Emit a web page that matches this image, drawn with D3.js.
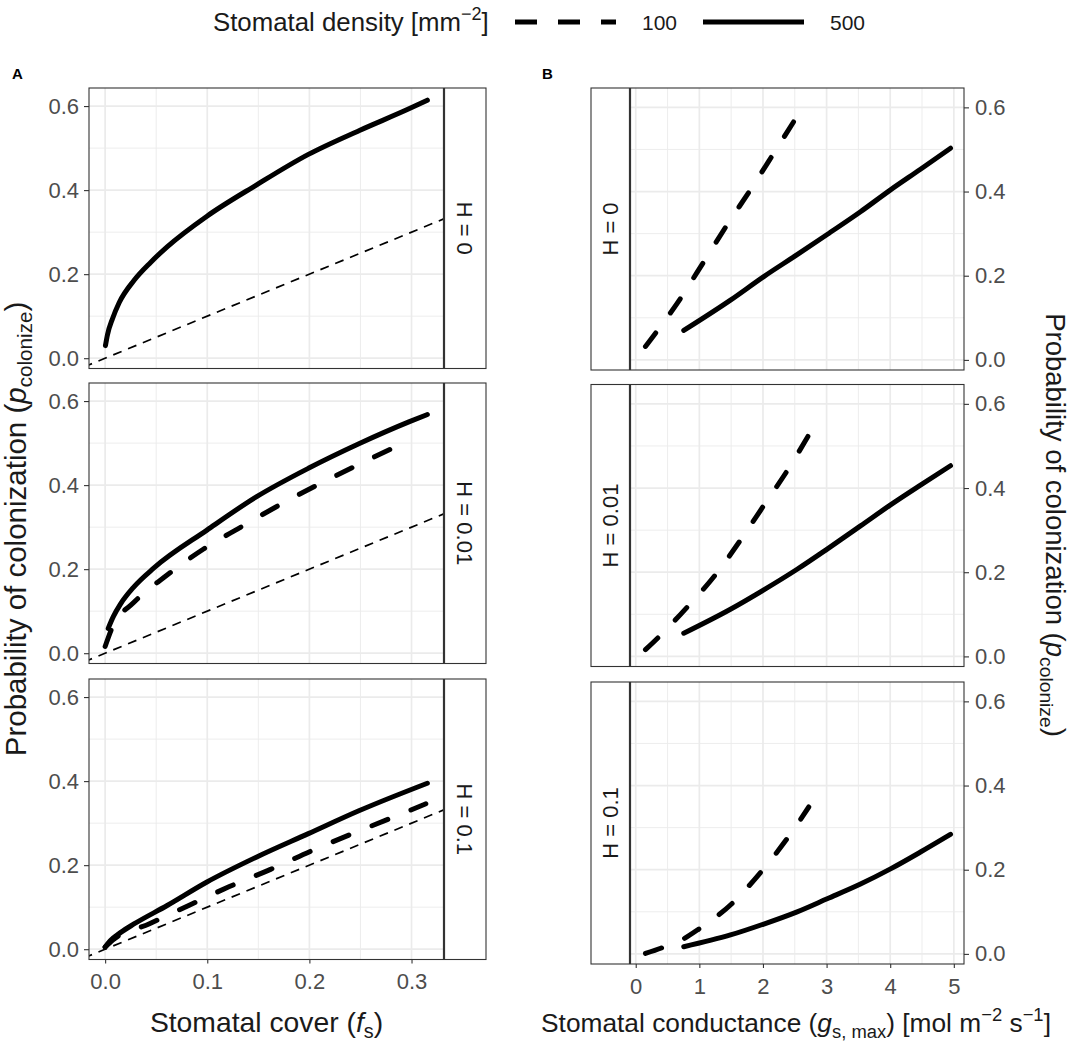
<!DOCTYPE html>
<html>
<head>
<meta charset="utf-8">
<script src="https://cdn.jsdelivr.net/npm/d3@7"></script>
<style>
body { margin: 0; background: #fff; }
text { font-family: "Liberation Sans", Arial, Helvetica, sans-serif; }
</style>
</head>
<body>
<div id="chart"></div>
<script>
// values
var hLabels = ["H = 0", "H = 0.01", "H = 0.1"];
var densityLabels = ["100", "500"];
var coverTicks = [0, 0.1, 0.2, 0.3];
var coverMinor = [0.05, 0.15, 0.25];
var condTicks = [0, 1, 2, 3, 4, 5];
var condMinor = [0.5, 1.5, 2.5, 3.5, 4.5];
var probTicks = [0, 0.2, 0.4, 0.6];
var probMinor = [0.1, 0.3, 0.5];
var identityLine = [-0.05, 0.4];   // y = x reference in panel A

// panel A: stomatal cover (f_s) -> p_colonize
var coverH0_500 = [0.0003, 0.0023, 0.0072, 0.0137, 0.0282, 0.0445, 0.0607, 0.0997, 0.148, 0.199, 0.249, 0.298, 0.3155];
var probCoverH0_500 = [0.030, 0.056, 0.094, 0.132, 0.185, 0.228, 0.265, 0.338, 0.412, 0.485, 0.542, 0.594, 0.614];

var coverH001_500 = [0.003, 0.008, 0.0153, 0.0282, 0.0478, 0.0997, 0.148, 0.199, 0.249, 0.298, 0.3155];
var probCoverH001_500 = [0.059, 0.087, 0.118, 0.158, 0.203, 0.293, 0.372, 0.440, 0.499, 0.551, 0.568];
var coverH001_100 = [0.0, 0.0071, 0.0282, 0.0607, 0.0964, 0.1321, 0.1694, 0.2068, 0.2457, 0.2945];
var probCoverH001_100 = [0.016, 0.062, 0.121, 0.186, 0.248, 0.299, 0.351, 0.399, 0.446, 0.503];

var coverH01_500 = [0.0, 0.005, 0.0153, 0.0282, 0.0607, 0.0997, 0.148, 0.199, 0.249, 0.3155];
var probCoverH01_500 = [0.005, 0.020, 0.040, 0.060, 0.104, 0.160, 0.219, 0.275, 0.330, 0.395];
var coverH01_100 = [0.0, 0.0071, 0.0429, 0.0834, 0.1217, 0.162, 0.201, 0.240, 0.281, 0.314];
var probCoverH01_100 = [0.005, 0.021, 0.060, 0.106, 0.149, 0.190, 0.233, 0.273, 0.313, 0.346];

// panel B: stomatal conductance (g_s,max) -> p_colonize
var condH0_100 = [0.153, 0.703, 1.069, 1.437, 1.803, 2.170, 2.537];
var probCondH0_100 = [0.032, 0.146, 0.233, 0.321, 0.404, 0.491, 0.579];
var condH0_500 = [0.755, 1.489, 2.013, 2.537, 3.009, 3.533, 4.005, 4.476, 4.948];
var probCondH0_500 = [0.070, 0.142, 0.198, 0.250, 0.298, 0.352, 0.404, 0.453, 0.503];

var condH001_100 = [0.153, 0.362, 0.808, 1.243, 1.646, 2.028, 2.406, 2.720];
var probCondH001_100 = [0.016, 0.046, 0.117, 0.192, 0.276, 0.362, 0.447, 0.526];
var condH001_500 = [0.755, 1.489, 2.013, 2.537, 3.009, 3.533, 4.005, 4.476, 4.948];
var probCondH001_500 = [0.055, 0.112, 0.158, 0.207, 0.255, 0.310, 0.360, 0.407, 0.453];

var condH01_100 = [0.153, 0.404, 0.755, 0.991, 1.516, 1.976, 2.390, 2.720];
var probCondH01_100 = [0.001, 0.014, 0.036, 0.059, 0.120, 0.196, 0.276, 0.349];
var condH01_500 = [0.755, 1.489, 2.013, 2.537, 3.009, 3.533, 4.005, 4.476, 4.948];
var probCondH01_500 = [0.017, 0.045, 0.071, 0.100, 0.131, 0.166, 0.202, 0.242, 0.284];

function zipxy(xs, ys) { return xs.map(function (v, i) { return [v, ys[i]]; }); }

var seriesA = [
    [{dens: "500", pts: zipxy(coverH0_500, probCoverH0_500)}],
    [{dens: "500", pts: zipxy(coverH001_500, probCoverH001_500)},
     {dens: "100", pts: zipxy(coverH001_100, probCoverH001_100)}],
    [{dens: "500", pts: zipxy(coverH01_500, probCoverH01_500)},
     {dens: "100", pts: zipxy(coverH01_100, probCoverH01_100)}]
];
var seriesB = [
    [{dens: "100", pts: zipxy(condH0_100, probCondH0_100)},
     {dens: "500", pts: zipxy(condH0_500, probCondH0_500)}],
    [{dens: "100", pts: zipxy(condH001_100, probCondH001_100)},
     {dens: "500", pts: zipxy(condH001_500, probCondH001_500)}],
    [{dens: "100", pts: zipxy(condH01_100, probCondH01_100)},
     {dens: "500", pts: zipxy(condH01_500, probCondH01_500)}]
];

var width = 1084, height = 1043;
var svg = d3.select("#chart").append("svg")
    .attr("width", width)
    .attr("height", height);

var TICK_FS = 22;
var INK = "#1a1a1a", TICKINK = "#4d4d4d", GRID = "#ebebeb", BORDER = "#333333";

var layoutA = {x0: 89, x1: 444, strip: [444, 486], tops: [88, 383, 679], h: 280.5,
    xdom: [-0.0158, 0.3318], ydom: [-0.0245, 0.643],
    xt: coverTicks, xm: coverMinor, fmt: d3.format(".1f"), side: "left", series: seriesA};
var layoutB = {x0: 630, x1: 964, strip: [591, 630], tops: [88, 384.5, 682], h: 282,
    xdom: [-0.09, 5.16], ydom: [-0.024, 0.646],
    xt: condTicks, xm: condMinor, fmt: d3.format("d"), side: "right", series: seriesB};

var line = d3.line().curve(d3.curveMonotoneX);

function styleAxis(g) {
    g.select(".domain").remove();
    g.selectAll(".tick line").attr("stroke", BORDER).attr("stroke-width", 1.1);
    g.selectAll(".tick text").attr("fill", TICKINK).style("font-size", TICK_FS + "px")
        .style("font-family", '"Liberation Sans", Arial, sans-serif');
}

function drawFacet(L, idx, clipId) {
    var top = L.tops[idx], bot = top + L.h;
    var x = d3.scaleLinear().domain(L.xdom).range([L.x0, L.x1]);
    var y = d3.scaleLinear().domain(L.ydom).range([bot, top]);
    var g = svg.append("g");

    g.append("clipPath").attr("id", clipId)
        .append("rect").attr("x", L.x0).attr("y", top).attr("width", L.x1 - L.x0).attr("height", L.h);

    var grid = g.append("g");
    grid.selectAll(".vmin").data(L.xm).enter().append("line")
        .attr("x1", x).attr("x2", x).attr("y1", top).attr("y2", bot)
        .attr("stroke", GRID).attr("stroke-width", 0.9);
    grid.selectAll(".hmin").data(probMinor).enter().append("line")
        .attr("x1", L.x0).attr("x2", L.x1).attr("y1", y).attr("y2", y)
        .attr("stroke", GRID).attr("stroke-width", 0.9);
    grid.selectAll(".vmaj").data(L.xt).enter().append("line")
        .attr("x1", x).attr("x2", x).attr("y1", top).attr("y2", bot)
        .attr("stroke", GRID).attr("stroke-width", 1.7);
    grid.selectAll(".hmaj").data(probTicks).enter().append("line")
        .attr("x1", L.x0).attr("x2", L.x1).attr("y1", y).attr("y2", y)
        .attr("stroke", GRID).attr("stroke-width", 1.7);

    var marks = g.append("g").attr("clip-path", "url(#" + clipId + ")");
    if (L.side === "left") {
        marks.append("path")
            .attr("d", line(identityLine.map(function (v) { return [x(v), y(v)]; })))
            .attr("fill", "none").attr("stroke", "#000").attr("stroke-width", 1.7)
            .attr("stroke-dasharray", "9 7");
    }
    marks.selectAll(".curve").data(L.series[idx]).enter().append("path")
        .attr("d", function (s) { return line(s.pts.map(function (p) { return [x(p[0]), y(p[1])]; })); })
        .attr("fill", "none").attr("stroke", "#000").attr("stroke-width", 5)
        .attr("stroke-linecap", "round").attr("stroke-linejoin", "round")
        .attr("stroke-dasharray", function (s) { return s.dens === "100" ? "17 25" : null; });

    // panel + strip frame
    var fx0 = Math.min(L.x0, L.strip[0]), fx1 = Math.max(L.x1, L.strip[1]);
    g.append("rect").attr("x", fx0).attr("y", top).attr("width", fx1 - fx0).attr("height", L.h)
        .attr("fill", "none").attr("stroke", BORDER).attr("stroke-width", 1.1);
    var sx = L.side === "left" ? L.strip[0] : L.strip[1];
    g.append("line").attr("x1", sx).attr("x2", sx).attr("y1", top).attr("y2", bot)
        .attr("stroke", BORDER).attr("stroke-width", 2.2);
    var cx = (L.strip[0] + L.strip[1]) / 2, cy = top + L.h / 2;
    var rot = L.side === "left" ? 90 : -90;
    g.append("text").attr("transform", "translate(" + cx + "," + cy + ") rotate(" + rot + ")")
        .attr("text-anchor", "middle").attr("dy", "0.36em")
        .attr("fill", INK).style("font-size", TICK_FS + "px").text(hLabels[idx]);

    // y axis
    var yAxis = L.side === "left"
        ? d3.axisLeft(y).tickValues(probTicks).tickFormat(d3.format(".1f")).tickSize(5).tickPadding(5)
        : d3.axisRight(y).tickValues(probTicks).tickFormat(d3.format(".1f")).tickSize(5).tickPadding(6);
    g.append("g")
        .attr("transform", "translate(" + (L.side === "left" ? L.x0 : L.x1) + ",0)")
        .call(yAxis).call(styleAxis);

    if (idx === 2) {
        g.append("g").attr("transform", "translate(0," + bot + ")")
            .call(d3.axisBottom(x).tickValues(L.xt).tickFormat(L.fmt).tickSize(4).tickPadding(10))
            .call(styleAxis);
    }
}

[0, 1, 2].forEach(function (i) {
    drawFacet(layoutA, i, "clipA" + i);
    drawFacet(layoutB, i, "clipB" + i);
});

// panel tags
svg.append("text").attr("x", 12).attr("y", 79).style("font-size", "15px").style("font-weight", "bold").text("A");
svg.append("text").attr("x", 542).attr("y", 79).style("font-size", "15px").style("font-weight", "bold").text("B");

// axis titles
function probTitle(t) {
    t.append("tspan").text("Probability of colonization (");
    t.append("tspan").style("font-style", "italic").text("p");
    t.append("tspan").attr("dy", 6).style("font-size", "0.7em").text("colonize");
    t.append("tspan").attr("dy", -6).text(")");
}
svg.append("text")
    .attr("transform", "translate(26,529) rotate(-90)")
    .attr("text-anchor", "middle").attr("fill", INK).style("font-size", "29.5px")
    .call(probTitle);
svg.append("text")
    .attr("transform", "translate(1046,525) rotate(90)")
    .attr("text-anchor", "middle").attr("fill", INK).style("font-size", "27.5px")
    .call(probTitle);

var xtA = svg.append("text").attr("x", (layoutA.x0 + layoutA.x1) / 2).attr("y", 1032)
    .attr("text-anchor", "middle").attr("fill", INK).style("font-size", "28.3px");
xtA.append("tspan").text("Stomatal cover (");
xtA.append("tspan").style("font-style", "italic").text("f");
xtA.append("tspan").attr("dy", 6).style("font-size", "0.7em").text("s");
xtA.append("tspan").attr("dy", -6).text(")");

var xtB = svg.append("text").attr("x", 796).attr("y", 1032)
    .attr("text-anchor", "middle").attr("fill", INK).style("font-size", "26.3px");
xtB.append("tspan").text("Stomatal conductance (");
xtB.append("tspan").style("font-style", "italic").text("g");
xtB.append("tspan").attr("dy", 6).style("font-size", "0.7em").text("s, max");
xtB.append("tspan").attr("dy", -6).text(") [mol m");
xtB.append("tspan").attr("dy", -11).style("font-size", "0.7em").text("\u22122");
xtB.append("tspan").attr("dy", 11).text(" s");
xtB.append("tspan").attr("dy", -11).style("font-size", "0.7em").text("\u22121");
xtB.append("tspan").attr("dy", 11).text("]");

// legend
var legY = 22;
var lt = svg.append("text").attr("x", 213).attr("y", legY + 9).attr("fill", INK).style("font-size", "25.8px");
lt.append("tspan").text("Stomatal density [mm");
lt.append("tspan").attr("dy", -11).style("font-size", "0.7em").text("\u22122");
lt.append("tspan").attr("dy", 11).text("]");

var keys = [{x: 515, lab: densityLabels[0], dash: "22 21"}, {x: 703, lab: densityLabels[1], dash: null}];
keys.forEach(function (k) {
    svg.append("line").attr("x1", k.x).attr("x2", k.x + 101).attr("y1", legY).attr("y2", legY)
        .attr("stroke", "#000").attr("stroke-width", 5).attr("stroke-dasharray", k.dash);
    svg.append("text").attr("x", k.x + 127).attr("y", legY).attr("dy", "0.36em")
        .attr("fill", INK).style("font-size", "21px").text(k.lab);
});
</script>
</body>
</html>
